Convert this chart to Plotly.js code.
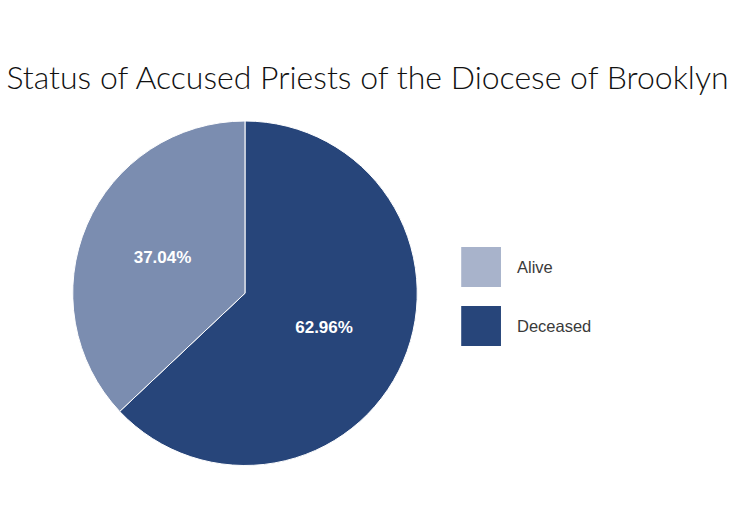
<!DOCTYPE html>
<html>
<head>
<meta charset="utf-8">
<script src="https://cdn.plot.ly/plotly-3.0.1.min.js"></script>
<style>html,body{margin:0;padding:0;background:#fff;}#chart{width:735px;height:520px;}</style>
</head>
<body>
<div id="chart"></div>
<script>
const labels = ["Alive", "Deceased"];
const values = [10, 17];
const sliceColors = ["#7b8db0", "#27457a"];
const legendColors = ["#a8b3cb", "#27457a"];
const titleText = "Status of Accused Priests of the Diocese of Brooklyn";

const trace = {
  type: "pie",
  labels: labels.slice().reverse(),
  values: values.slice().reverse(),
  sort: false,
  direction: "clockwise",
  rotation: 0,
  marker: {colors: sliceColors.slice().reverse(), line: {color: "#ffffff", width: 1}},
  texttemplate: "%{percent:.2%}",
  textposition: "inside",
  insidetextorientation: "horizontal",
  textfont: {family: "Liberation Sans, Arial, sans-serif", size: 17, color: "#ffffff", weight: "bold"},
  hoverinfo: "label+percent",
  domain: {x: [0.0986, 0.568], y: [0.1048, 0.7673]},
  showlegend: false
};

const shapes = [];
const annotations = [];
labels.forEach((lab, i) => {
  const y0 = 0.525 - i * 0.1135;
  shapes.push({type: "rect", xref: "paper", yref: "paper",
    x0: 0.6275, x1: 0.6816, y0: y0 - 0.077, y1: y0,
    fillcolor: legendColors[i], line: {width: 0}});
  annotations.push({xref: "paper", yref: "paper", x: 0.7005, y: y0 - 0.0385,
    xanchor: "left", yanchor: "middle", showarrow: false, text: lab,
    font: {family: "Liberation Sans, Arial, sans-serif", size: 16.5, color: "#3a3a3a"}});
});

const layout = {
  width: 735, height: 520,
  margin: {l: 0, r: 0, t: 0, b: 0},
  paper_bgcolor: "#ffffff",
  title: {text: titleText, x: 0.5, xanchor: "center", y: 0.85, yanchor: "middle",
    font: {family: "Lato, sans-serif", size: 32, color: "#111111", weight: 300}},
  shapes: shapes,
  annotations: annotations
};

Plotly.newPlot("chart", [trace], layout, {displayModeBar: false, staticPlot: true});
</script>
</body>
</html>
